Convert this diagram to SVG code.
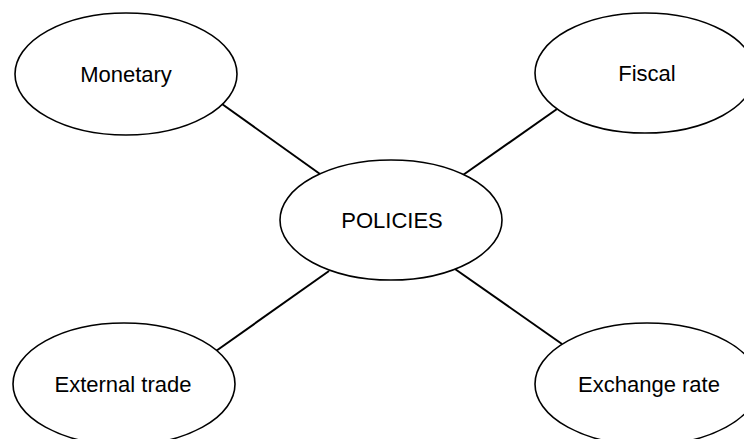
<svg xmlns="http://www.w3.org/2000/svg" width="744" height="439" viewBox="0 0 744 439">
<style>
.node ellipse{fill:#fff;stroke:#000;stroke-width:1.6}
.node text{font-family:"Liberation Sans",Arial,sans-serif;font-size:22px;fill:#000;text-anchor:middle}
.edge{stroke:#000;stroke-width:2;fill:none}
</style>
<rect width="744" height="439" fill="#fff"/>
<g id="connectors">
<line class="edge" x1="222" y1="104" x2="320" y2="174"/>
<line class="edge" x1="557" y1="109" x2="463" y2="175"/>
<line class="edge" x1="329" y1="271" x2="216" y2="351"/>
<line class="edge" x1="455" y1="269" x2="562" y2="344"/>
</g>
<g id="monetary" class="node"><ellipse cx="126" cy="74" rx="111" ry="61"/><text x="126" y="82">Monetary</text></g>
<g id="fiscal" class="node"><ellipse cx="645" cy="73" rx="110" ry="60"/><text x="647" y="81">Fiscal</text></g>
<g id="policies" class="node"><ellipse cx="391" cy="220" rx="111" ry="60"/><text x="392" y="228">POLICIES</text></g>
<g id="external-trade" class="node"><ellipse cx="124" cy="384" rx="111" ry="61"/><text x="123" y="392">External trade</text></g>
<g id="exchange-rate" class="node"><ellipse cx="647" cy="384" rx="112" ry="61"/><text x="649" y="392">Exchange rate</text></g>
</svg>
